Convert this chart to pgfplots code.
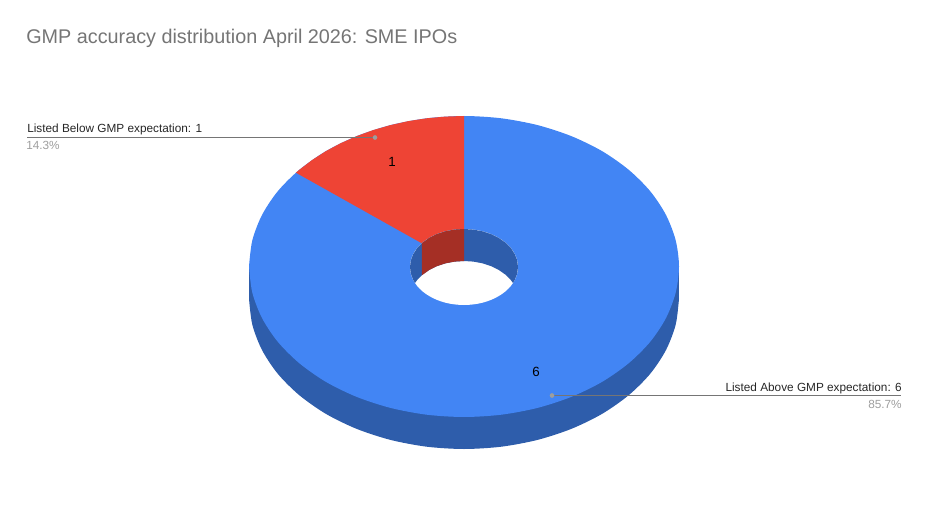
\documentclass[border=0pt]{standalone}
\usepackage{pgfplots}
\pgfplotsset{compat=1.18}
\usepackage{fontspec}
\setmainfont{Liberation Sans}
\definecolor{pieblue}{HTML}{4285F4}
\definecolor{piered}{HTML}{EE4435}
\definecolor{wallblue}{HTML}{2E5DAB}
\definecolor{wallred}{HTML}{A52F25}
\definecolor{titlegrey}{HTML}{757575}
\definecolor{pctgrey}{HTML}{9E9E9E}
\definecolor{leader}{HTML}{757575}
\begin{document}
\begin{tikzpicture}
\begin{axis}[
  scale only axis, width=696pt, height=393pt,
  xmin=0, xmax=928, ymin=0, ymax=524, y dir=reverse,
  hide axis, clip=false,
]
% Values: above 6 (85.7%), below 1 (14.3%); coordinates below are picture pixels
\path (axis cs:0,0) rectangle (axis cs:928,524);
% outer wall, lower half of the rim moved down 32 px
\addplot[draw=none, fill=wallblue, smooth, mark=none] coordinates {
(249,298.5) (252.3,324.6) (262,350) (277.8,373.8) (299.3,395.2) (325.8,413.8) (356.5,428.8) (390.5,439.9) (426.7,446.7) (464,449)
(501.3,446.7) (537.5,439.9) (571.5,428.8) (602.2,413.8) (628.7,395.2) (650.2,373.8) (666,350) (675.7,324.6) (679,298.5)};
\addplot[draw=none, fill=wallblue, mark=none] coordinates {(249,266.5) (249,299) (679,299) (679,266.5)};
% top face, whole ellipse
\addplot[draw=none, fill=pieblue, smooth, mark=none] coordinates {
(249,266.5) (252.3,240.4) (262,215) (277.8,191.2) (299.3,169.8) (325.8,151.2) (356.5,136.2) (390.5,125.1) (426.7,118.3) (464,116)
(501.3,118.3) (537.5,125.1) (571.5,136.2) (602.2,151.2) (628.7,169.8) (650.2,191.2) (666,215) (675.7,240.4) (679,266.5)
(675.7,292.6) (666,318) (650.2,341.8) (628.7,363.2) (602.2,381.8) (571.5,396.8) (537.5,407.9) (501.3,414.7) (464,417)
(426.7,414.7) (390.5,407.9) (356.5,396.8) (325.8,381.8) (299.3,363.2) (277.8,341.8) (262,318) (252.3,292.6) (249,266.5)};
% red slice of the top face
\addplot[draw=none, fill=piered, mark=none] coordinates {
(464,116) (445.3,116.6) (426.7,118.3) (408.4,121.1) (390.5,125.1) (373.1,130.1) (356.5,136.2) (340.7,143.2) (325.8,151.2) (312,160.1) (299.3,169.8) (295.9,172.7)
(421.8,243.3) (429.3,237.9) (437,234.1) (445.5,231.3) (454.6,229.6) (464,229)};
% hole
\addplot[draw=none, fill=white, smooth, mark=none] coordinates {
(410,267) (410.8,260.4) (413.3,254) (417.2,248) (422.6,242.6) (429.3,237.9) (437,234.1) (445.5,231.3) (454.6,229.6) (464,229)
(473.4,229.6) (482.5,231.3) (491,234.1) (498.7,237.9) (505.4,242.6) (510.8,248) (514.7,254) (517.2,260.4) (518,267)
(517.2,273.6) (514.7,280) (510.8,286) (505.4,291.4) (498.7,296.1) (491,299.9) (482.5,302.7) (473.4,304.4) (464,305)
(454.6,304.4) (445.5,302.7) (437,299.9) (429.3,296.1) (422.6,291.4) (417.2,286) (413.3,280) (410.8,273.6) (410,267)};
% far inner wall
\addplot[draw=none, fill=wallblue, mark=none] coordinates {
(415,283) (413.3,280) (410.8,273.6) (410,267) (410.8,260.4) (413.3,254) (417.2,248) (422.6,242.6) (429.3,237.9) (437,234.1) (445.5,231.3) (454.6,229.6) (464,229)
(473.4,229.6) (482.5,231.3) (491,234.1) (498.7,237.9) (505.4,242.6) (510.8,248) (514.7,254) (517.2,260.4) (518,267) (517.2,273.6) (514.7,280) (513,283)
(510.8,280) (505.4,274.6) (498.7,269.9) (491,266.1) (482.5,263.3) (473.4,261.6) (464,261)
(454.6,261.6) (445.5,263.3) (437,266.1) (429.3,269.9) (422.6,274.6) (417.2,280)};
\addplot[draw=none, fill=wallred, mark=none] coordinates {
(421.8,243.3) (429.3,237.9) (437,234.1) (445.5,231.3) (454.6,229.6) (464,229)
(464,261) (454.6,261.6) (445.5,263.3) (437,266.1) (429.3,269.9) (421.8,275.3)};
% leader lines and dots
\addplot[leader, line width=0.75pt, mark=none] coordinates {(27,137.5) (375,137.5)};
\addplot[leader, line width=0.75pt, mark=none] coordinates {(552,395.5) (901,395.5)};
\addplot[pctgrey, only marks, mark=*, mark size=1.5pt, mark options={draw=pctgrey, fill=pctgrey}] coordinates {(375,137.5) (552,395.5)};
% text
\node[anchor=base west, inner sep=0pt, font=\fontsize{14.85}{16}\selectfont, text=titlegrey] at (axis cs:26,44) {GMP accuracy distribution April 2026: SME IPOs};
\node[anchor=base west, inner sep=0pt, font=\fontsize{8.85}{11}\selectfont, text=black!85] at (axis cs:27,133) {Listed Below GMP expectation: 1};
\node[anchor=base west, inner sep=0pt, font=\fontsize{8.85}{11}\selectfont, text=pctgrey] at (axis cs:26,150) {14.3\%};
\node[anchor=base east, inner sep=0pt, font=\fontsize{8.85}{11}\selectfont, text=black!85] at (axis cs:902,391) {Listed Above GMP expectation: 6};
\node[anchor=base east, inner sep=0pt, font=\fontsize{8.85}{11}\selectfont, text=pctgrey] at (axis cs:902,408) {85.7\%};
\node[anchor=base, inner sep=0pt, font=\fontsize{10}{11}\selectfont] at (axis cs:392,167) {1};
\node[anchor=base, inner sep=0pt, font=\fontsize{10}{11}\selectfont] at (axis cs:536,376) {6};
\end{axis}
\end{tikzpicture}
\end{document}
